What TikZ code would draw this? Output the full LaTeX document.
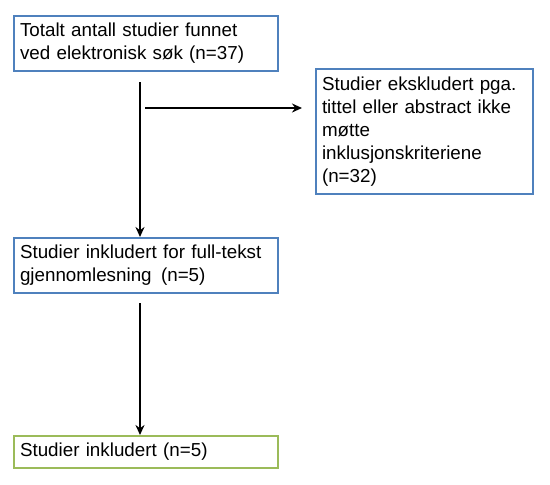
\documentclass[tikz,border=0pt]{standalone}
\usepackage{fontspec}
\setmainfont{Liberation Sans}
\usetikzlibrary{positioning,arrows.meta}
\definecolor{boxblue}{RGB}{79,129,189}
\definecolor{boxgreen}{RGB}{155,187,89}
\begin{document}
\begin{tikzpicture}[x=1pt,y=-1pt,
    box/.style={draw=boxblue, line width=2pt, anchor=north west, align=left,
      inner xsep=6pt, inner ysep=0pt, font=\fontsize{18.8}{23}\selectfont},
    arr/.style={line width=2.2pt, -{Stealth[length=10pt,width=9pt]}}]
  \useasboundingbox (0,0) rectangle (550,485);
  % boxes
  \node[box, text width=252pt, minimum height=55pt] (total) at (13,15)
    {Totalt antall studier funnet\\ved elektronisk søk (n=37)};
  \node[box, text width=205pt, minimum height=125pt] (excl) at (315,68)
    {Studier ekskludert pga.\\tittel eller abstract ikke\\møtte\\inklusjonskriteriene\\(n=32)};
  \node[box, text width=252pt, minimum height=55pt] (fulltext) at (13,237)
    {Studier inkludert for full-tekst\\gjennomlesning\, (n=5)};
  \node[box, draw=boxgreen, text width=252pt, minimum height=32pt] (incl) at (13,435)
    {Studier inkludert (n=5)};
  % arrows
  \coordinate (top1) at (140,82);
  \coordinate (branch) at (145,108);
  \coordinate (top2) at (140,303);
  \draw[arr] (top1) -- (top1 |- fulltext.north);
  \draw[arr, shorten >=13pt] (branch) -- (branch -| excl.west);
  \draw[arr] (top2) -- (top2 |- incl.north);
\end{tikzpicture}
\end{document}
